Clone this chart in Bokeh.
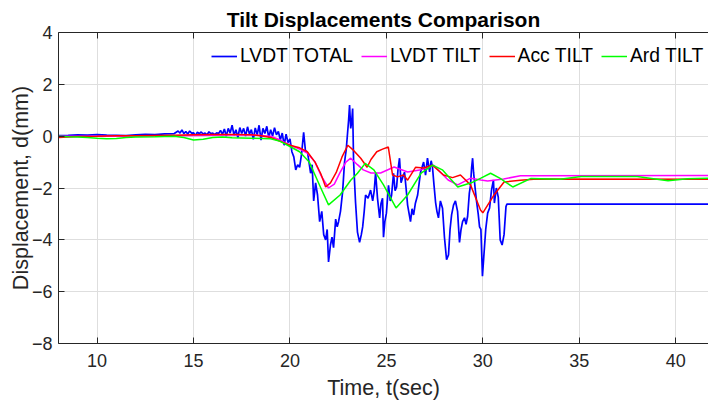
from bokeh.plotting import figure
from bokeh.models import Range1d, FixedTicker, LinearAxis, Legend, LegendItem
from bokeh.embed import file_html
from bokeh.resources import INLINE

# ---------------- data ----------------
x_ticks = [10, 15, 20, 25, 30, 35, 40]
y_ticks = [-8, -6, -4, -2, 0, 2, 4]

lvdt_total_t = [8.0, 8.5, 9.0, 9.5, 10.0, 10.5, 11.0, 11.5, 12.0, 12.5, 13.0, 13.5, 14.0,
                14.2, 14.3, 14.4, 14.5, 14.6, 14.7, 14.8, 14.9, 15.0, 15.1, 15.2, 15.3, 15.4,
                15.5, 15.6, 15.7, 15.8, 15.9, 16.0, 16.1, 16.2, 16.3, 16.4, 16.5, 16.6, 16.7,
                16.8, 16.9, 17.0, 17.1, 17.2, 17.3, 17.4, 17.5, 17.6, 17.7, 17.8, 17.9, 18.0,
                18.1, 18.2, 18.3, 18.4, 18.5, 18.6, 18.7, 18.8, 18.9, 19.0, 19.1, 19.2, 19.3,
                19.4, 19.5, 19.6, 19.7, 19.8, 19.9, 20.0, 20.1, 20.2, 20.3, 20.4, 20.5, 20.6,
                20.71, 20.8, 20.92, 21.07, 21.15, 21.23, 21.33, 21.43, 21.54, 21.65, 21.75,
                21.85, 21.93, 22.0, 22.1, 22.18, 22.26, 22.37, 22.45, 22.52, 22.62, 22.73,
                22.83, 22.92, 22.99, 23.04, 23.09, 23.15, 23.2, 23.25, 23.3, 23.4, 23.5,
                23.61, 23.7, 23.77, 23.85, 23.92, 24.05, 24.18, 24.29, 24.37, 24.44, 24.54,
                24.65, 24.72, 24.8, 24.85, 24.92, 25.0, 25.11, 25.2, 25.27, 25.37, 25.45,
                25.53, 25.6, 25.68, 25.76, 25.84, 25.94, 26.02, 26.1, 26.25, 26.33, 26.41,
                26.5, 26.62, 26.7, 26.77, 26.85, 26.93, 27.03, 27.13, 27.24, 27.32, 27.39,
                27.47, 27.55, 27.62, 27.7, 27.8, 27.91, 28.01, 28.12, 28.22, 28.3, 28.38,
                28.48, 28.58, 28.69, 28.79, 28.87, 28.95, 29.05, 29.13, 29.21, 29.3, 29.36,
                29.42, 29.47, 29.52, 29.6, 29.68, 29.76, 29.83, 29.9, 29.98, 30.05, 30.15,
                30.25, 30.35, 30.45, 30.55, 30.6, 30.7, 30.8, 30.9, 31.0, 31.1, 31.2, 31.25,
                35.0, 41.7]
lvdt_total_d = [0.02, 0.03, 0.05, 0.04, 0.06, 0.04, 0.03, 0.02, 0.05, 0.07, 0.06, 0.09, 0.10,
                0.2, 0.12, 0.24, 0.1, 0.18, 0.08, 0.2, 0.12, 0.13, 0.02, 0.15, 0.1, 0.16,
                0.08, 0.12, 0.05, 0.17, 0.1, 0.12, 0.06, 0.13, 0.1, 0.22, 0.07, 0.28, 0.0,
                0.3, 0.12, 0.42, 0.04, 0.25, -0.05, 0.33, 0.1, 0.3, 0.0, 0.36, 0.08, 0.25,
                -0.12, 0.32, 0.05, 0.42, -0.15, 0.3, 0.1, 0.38, -0.05, 0.25, 0.0, 0.33, 0.05,
                0.18, -0.15, 0.12, -0.35, 0.08, -0.25, -0.1, -0.6, -0.8, -1.3, -1.1, -1.2, -0.7,
                0.15, -0.55, -0.65, -1.43, -1.1, -2.5, -1.8, -2.27, -3.3, -2.9, -3.8,
                -4.0, -3.6, -4.85, -4.2, -3.9, -4.3, -3.2, -3.5, -3.3, -2.9, -2.15,
                -1.0, -0.5, 0.15, 0.6, 1.2, 0.3, 0.55, 1.07, -1.0, -2.55, -3.7,
                -4.1, -3.8, -3.5, -2.9, -2.27, -2.4, -2.08, -2.5, -2.1, -1.4, -2.4,
                -3.15, -2.6, -2.4, -3.9, -3.3, -2.97, -1.9, -2.5, -2.27, -1.43, -2.1,
                -1.96, -1.3, -0.85, -1.8, -1.6, -1.39, -2.0, -2.66, -3.3, -2.8, -3.04,
                -2.6, -2.27, -1.8, -1.39, -1.2, -1.0, -1.5, -0.85, -1.38, -0.95, -1.2,
                -1.9, -2.55, -2.9, -3.15, -2.5, -2.78, -3.9, -4.77, -4.58, -3.6, -3.04,
                -2.66, -2.5, -2.9, -4.1, -3.6, -3.3, -3.15, -3.4, -3.1, -2.2, -1.9,
                -1.2, -0.85, -1.4, -2.0, -2.55, -3.0, -3.5, -3.6, -5.4, -4.65, -3.6,
                -2.97, -2.77, -2.08, -1.69, -2.58, -2.0, -2.35, -4.0, -4.2, -3.8, -2.72, -2.62,
                -2.62, -2.62]

lvdt_tilt_t = [8.0, 10.0, 12.0, 14.0, 16.0, 18.0, 19.0, 19.5, 20.0, 20.5, 20.9, 21.3, 21.6,
               22.0, 22.3, 22.6, 22.9, 23.15, 23.5, 23.8, 24.2, 24.7, 25.4, 26.1, 26.8,
               27.45, 28.2, 28.7, 29.37, 29.9, 30.25, 31.08, 31.95, 41.7]
lvdt_tilt_d = [0.0, 0.0, 0.01, 0.02, 0.04, 0.05, 0.0, -0.15, -0.35, -0.5, -0.65, -1.0, -1.5,
               -2.0, -1.85, -1.4, -1.0, -0.85, -1.1, -1.3, -1.42, -1.42, -1.19, -1.38, -1.3,
               -1.12, -1.69, -1.88, -1.62, -1.69, -1.73, -1.65, -1.53, -1.52]

acc_tilt_t = [8.0, 8.5, 9.0, 10.0, 11.0, 12.0, 13.0, 14.0, 15.0, 16.0, 17.0, 18.0, 18.5,
              19.0, 19.5, 20.0, 20.5, 20.9, 21.3, 21.6, 21.85, 22.1, 22.4, 22.7, 23.0, 23.3,
              23.67, 24.0, 24.2, 24.5, 24.8, 25.1, 25.32, 25.58, 25.89, 26.1, 26.51, 26.92,
              27.39, 27.96, 28.43, 28.84, 29.36, 29.88, 30.0, 30.55, 31.1, 31.95, 32.8, 41.7]
acc_tilt_d = [-0.05, -0.03, -0.01, 0.0, 0.02, 0.02, 0.03, 0.04, 0.05, 0.06, 0.06, 0.05, 0.02,
              -0.05, -0.2, -0.35, -0.45, -0.6, -1.0, -1.45, -1.96, -1.8, -1.4, -0.8, -0.35, -0.55,
              -0.85, -1.2, -0.9, -0.6, -0.5, -0.42, -1.5, -1.57, -1.5, -1.7, -1.2, -1.23,
              -1.12, -1.5, -1.6, -1.5, -1.88, -2.85, -2.96, -2.3, -1.77, -1.7, -1.65, -1.66]

ard_tilt_t = [8.0, 8.5, 9.0, 9.5, 10.0, 10.5, 11.0, 11.5, 12.0, 13.0, 14.0, 14.5, 15.0, 15.5,
              16.0, 16.5, 17.0, 18.0, 19.0, 19.5, 20.0, 20.5, 21.0, 21.3, 21.6, 22.0, 22.6,
              23.15, 23.5, 23.9, 24.35, 24.85, 25.5, 26.1, 26.8, 27.4, 27.9, 28.7, 29.4,
              29.9, 30.4, 30.9, 31.55, 32.5, 34.0, 35.1, 38.0, 39.6, 40.6, 41.7]
ard_tilt_d = [0.0, -0.02, -0.03, -0.05, -0.08, -0.1, -0.09, -0.05, -0.03, -0.02, 0.0, -0.05,
              -0.15, -0.12, -0.05, -0.03, -0.06, -0.08, -0.1, -0.2, -0.4, -0.6, -1.0, -1.5,
              -2.0, -2.65, -2.27, -1.7, -1.43, -1.05, -1.3, -1.88, -2.77, -2.27, -1.43, -1.12,
              -1.3, -1.96, -1.8, -1.62, -1.43, -1.63, -1.96, -1.63, -1.66, -1.56, -1.56, -1.72,
              -1.64, -1.62]

FONT = "Liberation Sans"
TXT = "#262626"

p = figure(width=708, height=402, output_backend="svg", toolbar_location=None,
           x_range=Range1d(8, 41.7), y_range=Range1d(-8, 4),
           min_border_left=58, min_border_right=0, min_border_top=32, min_border_bottom=58)
p.outline_line_color = None

p.title.text = "Tilt Displacements Comparison"
p.title.align = "center"
p.title.text_font = FONT
p.title.text_font_size = "21px"
p.title.text_font_style = "bold"
p.title.text_color = "#000000"
p.title.standoff = 3
p.title.offset = 0

for ax in (p.xaxis[0], p.yaxis[0]):
    ax.major_tick_in = 6
    ax.major_tick_out = 0
    ax.minor_tick_line_color = None
    ax.axis_line_color = TXT
    ax.major_tick_line_color = TXT
    ax.major_label_text_font = FONT
    ax.major_label_text_font_size = "18px"
    ax.major_label_text_color = TXT
    ax.axis_label_text_font = FONT
    ax.axis_label_text_font_size = "21.5px"
    ax.axis_label_text_font_style = "normal"
    ax.axis_label_text_color = TXT

p.xaxis[0].major_label_standoff = 10
p.xaxis[0].axis_label_standoff = 6
p.yaxis[0].major_label_standoff = 6
p.yaxis[0].axis_label_standoff = -4

p.xaxis[0].ticker = FixedTicker(ticks=x_ticks)
p.yaxis[0].ticker = FixedTicker(ticks=y_ticks)
p.xaxis[0].axis_label = "Time, t(sec)"
p.yaxis[0].axis_label = "Displacement, d(mm)"

top = LinearAxis(ticker=FixedTicker(ticks=x_ticks), major_tick_in=6, major_tick_out=0,
                 minor_tick_line_color=None, axis_line_color=TXT, major_tick_line_color=TXT,
                 major_label_text_font_size="0px", major_label_standoff=0)
p.add_layout(top, "above")

p.xgrid.ticker = FixedTicker(ticks=x_ticks)
p.ygrid.ticker = FixedTicker(ticks=y_ticks)
p.grid.grid_line_color = "#dedede"
p.grid.grid_line_width = 1

r1 = p.line(lvdt_total_t, lvdt_total_d, color="#0000ff", line_width=1.7)
r2 = p.line(lvdt_tilt_t, lvdt_tilt_d, color="#ff00ff", line_width=1.5)
r3 = p.line(acc_tilt_t, acc_tilt_d, color="#ff0000", line_width=1.5)
r4 = p.line(ard_tilt_t, ard_tilt_d, color="#00ff00", line_width=1.5)

legend = Legend(items=[LegendItem(label="LVDT TOTAL", renderers=[r1]),
                       LegendItem(label="LVDT TILT", renderers=[r2]),
                       LegendItem(label="Acc TILT", renderers=[r3]),
                       LegendItem(label="Ard TILT", renderers=[r4])],
                orientation="horizontal", location=(153, 276))
legend.background_fill_alpha = 0
legend.border_line_color = None
legend.label_text_font = FONT
legend.label_text_font_size = "19.3px"
legend.label_text_color = "#000000"
legend.glyph_width = 26
legend.label_standoff = 3
legend.spacing = 8
legend.margin = 0
legend.padding = 4
p.add_layout(legend, "center")

open("out.html", "w").write(file_html(p, INLINE))
